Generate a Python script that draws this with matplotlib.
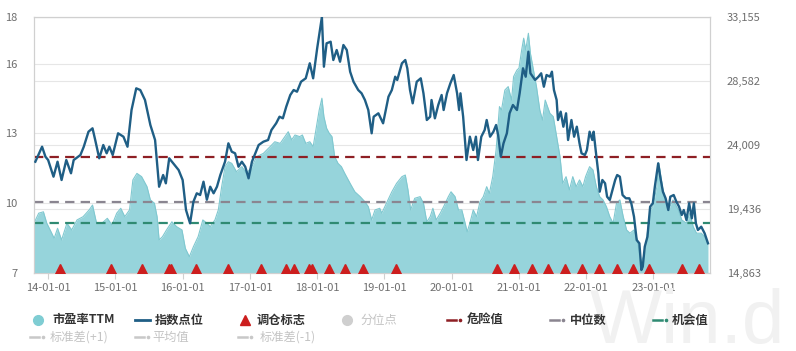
import matplotlib
matplotlib.use('Agg')
import matplotlib.pyplot as plt
from matplotlib.lines import Line2D
from matplotlib.ticker import FuncFormatter

plt.rcParams['font.family'] = ['Noto Sans CJK SC', 'DejaVu Sans']

# index points (right axis), decimal years
idx_years = [2013.81, 2013.91, 2013.96, 2014.00, 2014.08, 2014.14, 2014.20, 2014.27, 2014.34, 2014.38,
             2014.48, 2014.53, 2014.60, 2014.66, 2014.70, 2014.76, 2014.82, 2014.87, 2014.91, 2014.96,
             2015.04, 2015.12, 2015.18, 2015.24, 2015.31, 2015.37, 2015.44, 2015.52, 2015.59, 2015.65,
             2015.71, 2015.75, 2015.80, 2015.86, 2015.94, 2016.00, 2016.05, 2016.11, 2016.16, 2016.21,
             2016.26, 2016.31, 2016.36, 2016.41, 2016.46, 2016.51, 2016.56, 2016.63, 2016.68, 2016.73,
             2016.78, 2016.83, 2016.88, 2016.93, 2016.98, 2017.03, 2017.08, 2017.13, 2017.20, 2017.27,
             2017.32, 2017.39, 2017.44, 2017.49, 2017.54, 2017.60, 2017.65, 2017.70, 2017.76, 2017.83,
             2017.89, 2017.94, 2018.00, 2018.07, 2018.10, 2018.14, 2018.20, 2018.24, 2018.29, 2018.34,
             2018.39, 2018.44, 2018.49, 2018.54, 2018.61, 2018.66, 2018.71, 2018.76, 2018.81, 2018.84,
             2018.91, 2018.98, 2019.06, 2019.11, 2019.16, 2019.19, 2019.26, 2019.31, 2019.34, 2019.38,
             2019.42, 2019.48, 2019.54, 2019.58, 2019.63, 2019.68, 2019.70, 2019.75, 2019.80, 2019.85,
             2019.88, 2019.93, 2019.98, 2020.03, 2020.08, 2020.11, 2020.13, 2020.17, 2020.22, 2020.27,
             2020.32, 2020.36, 2020.39, 2020.44, 2020.49, 2020.52, 2020.57, 2020.62, 2020.66, 2020.69,
             2020.73, 2020.77, 2020.82, 2020.86, 2020.91, 2020.97, 2021.01, 2021.06, 2021.10, 2021.14,
             2021.17, 2021.24, 2021.29, 2021.33, 2021.37, 2021.41, 2021.46, 2021.49, 2021.52, 2021.56,
             2021.58, 2021.62, 2021.66, 2021.70, 2021.73, 2021.78, 2021.82, 2021.86, 2021.90, 2021.93,
             2021.98, 2022.01, 2022.05, 2022.09, 2022.11, 2022.14, 2022.18, 2022.20, 2022.24, 2022.28,
             2022.31, 2022.35, 2022.39, 2022.43, 2022.46, 2022.50, 2022.54, 2022.59, 2022.64, 2022.67,
             2022.71, 2022.75, 2022.79, 2022.82, 2022.84, 2022.87, 2022.91, 2022.95, 2022.99, 2023.02,
             2023.07, 2023.10, 2023.14, 2023.18, 2023.22, 2023.25, 2023.30, 2023.34, 2023.38, 2023.42,
             2023.45, 2023.49, 2023.53, 2023.57, 2023.60, 2023.63, 2023.66, 2023.71, 2023.76, 2023.81]
idx_vals = [22815, 23887, 23173, 22937, 21744, 22815, 21508, 22937, 21987, 22937,
            23294, 23887, 24959, 25202, 24366, 23058, 24009, 23416, 23887, 23294,
            24845, 24602, 23887, 26509, 28060, 27938, 27224, 25438, 24366, 21029,
            21865, 21272, 23058, 22701, 22222, 21508, 19364, 18414, 19957, 20558,
            20436, 21386, 20100, 21029, 20558, 21029, 21865, 22815, 24130, 23530,
            23416, 22458, 22815, 22458, 21629, 22815, 23416, 24009, 24244, 24366,
            25080, 25559, 26031, 25916, 26745, 27581, 27938, 27817, 28531, 28774,
            29846, 28774, 30918, 33155, 29603, 31275, 31389, 30082, 30796, 29961,
            31154, 30796, 29246, 28531, 27938, 27703, 27224, 26509, 24845, 26031,
            26274, 25559, 27460, 27938, 28889, 28653, 29846, 30082, 29489, 27938,
            26988, 28531, 28774, 27703, 25795, 26031, 27224, 25916, 26867, 27581,
            26509, 27703, 28417, 29010, 27703, 26509, 27703, 26031, 22937, 24602,
            23651, 24602, 22937, 24602, 25080, 25795, 24602, 24959, 25438, 24723,
            23173, 24130, 24845, 26274, 26867, 26509, 27703, 29489, 28889, 30675,
            29132, 28653, 28889, 29132, 28174, 29010, 28889, 29246, 27938, 27224,
            25795, 26388, 25316, 26274, 24366, 25795, 24602, 25316, 24130, 23416,
            23294, 23651, 24959, 24366, 24959, 23651, 21987, 20672, 21508, 21272,
            20315, 20079, 20793, 21508, 21865, 21744, 20436, 20200, 20200, 19843,
            18886, 17221, 16985, 15077, 15313, 16742, 17457, 19600, 19843, 21029,
            22701, 21744, 20672, 20200, 19364, 20315, 20436, 19957, 19600, 19007,
            19364, 18650, 19843, 18771, 19843, 18414, 17935, 18171, 17700, 16985]

# PE TTM (left axis)
pe_years = [2013.79, 2013.86, 2013.93, 2013.98, 2014.03, 2014.09, 2014.14, 2014.20, 2014.28, 2014.35,
            2014.43, 2014.52, 2014.61, 2014.66, 2014.72, 2014.80, 2014.88, 2014.95, 2015.02, 2015.08,
            2015.14, 2015.21, 2015.26, 2015.32, 2015.39, 2015.47, 2015.52, 2015.58, 2015.62, 2015.65,
            2015.70, 2015.76, 2015.84, 2015.91, 2015.99, 2016.04, 2016.10, 2016.16, 2016.23, 2016.30,
            2016.36, 2016.41, 2016.48, 2016.53, 2016.58, 2016.63, 2016.68, 2016.73, 2016.80, 2016.88,
            2016.95, 2017.03, 2017.10, 2017.20, 2017.30, 2017.37, 2017.45, 2017.52, 2017.57, 2017.62,
            2017.67, 2017.74, 2017.78, 2017.83, 2017.89, 2017.94, 2017.99, 2018.03, 2018.07, 2018.10,
            2018.14, 2018.18, 2018.22, 2018.26, 2018.31, 2018.36, 2018.41, 2018.49, 2018.56, 2018.64,
            2018.71, 2018.76, 2018.81, 2018.86, 2018.93, 2018.96, 2019.03, 2019.11, 2019.18, 2019.26,
            2019.31, 2019.35, 2019.39, 2019.45, 2019.53, 2019.58, 2019.63, 2019.68, 2019.72, 2019.77,
            2019.83, 2019.88, 2019.95, 2019.99, 2020.05, 2020.10, 2020.15, 2020.20, 2020.23, 2020.27,
            2020.32, 2020.37, 2020.42, 2020.47, 2020.52, 2020.56, 2020.61, 2020.66, 2020.71, 2020.74,
            2020.79, 2020.84, 2020.89, 2020.92, 2020.97, 2021.00, 2021.04, 2021.07, 2021.10, 2021.14,
            2021.17, 2021.21, 2021.26, 2021.31, 2021.35, 2021.39, 2021.46, 2021.51, 2021.56, 2021.61,
            2021.65, 2021.70, 2021.75, 2021.80, 2021.85, 2021.90, 2021.95, 2021.99, 2022.05, 2022.10,
            2022.15, 2022.20, 2022.25, 2022.30, 2022.35, 2022.40, 2022.45, 2022.50, 2022.55, 2022.60,
            2022.65, 2022.71, 2022.76, 2022.81, 2022.85, 2022.89, 2022.95, 2022.99, 2023.05, 2023.08,
            2023.14, 2023.22, 2023.29, 2023.37, 2023.42, 2023.49, 2023.54, 2023.59, 2023.64, 2023.71,
            2023.76, 2023.81]
pe_vals = [9.14, 9.57, 9.63, 9.14, 8.85, 8.49, 8.92, 8.42, 9.14, 8.85,
           9.28, 9.42, 9.71, 9.92, 9.14, 9.14, 9.35, 9.06, 9.57, 9.78,
           9.42, 9.71, 11.00, 11.28, 11.14, 10.71, 10.14, 10.00, 9.42, 8.42,
           8.56, 8.85, 9.20, 8.99, 8.85, 8.06, 7.70, 8.13, 8.56, 9.28,
           9.14, 8.99, 9.28, 9.71, 10.71, 11.57, 11.78, 11.71, 11.35, 11.57,
           11.28, 11.57, 12.00, 12.14, 12.43, 12.64, 12.57, 12.86, 13.07, 12.72,
           12.93, 12.86, 12.93, 12.57, 12.64, 12.43, 13.29, 14.00, 14.51, 13.72,
           13.22, 13.00, 12.86, 12.00, 11.71, 11.57, 11.28, 10.85, 10.49, 10.28,
           10.06, 9.85, 9.28, 9.71, 9.78, 9.57, 10.00, 10.49, 10.85, 11.14,
           11.21, 10.57, 9.71, 10.21, 10.28, 10.00, 9.20, 9.42, 9.78, 9.28,
           9.57, 9.85, 10.28, 10.49, 10.28, 9.71, 9.71, 9.14, 8.77, 9.14,
           9.71, 9.42, 10.06, 10.28, 10.71, 10.42, 11.14, 12.29, 14.15, 14.00,
           14.86, 15.01, 14.43, 15.44, 15.72, 15.80, 16.58, 17.09, 16.58, 17.30,
           16.44, 15.80, 15.01, 14.00, 13.57, 14.43, 13.86, 13.72, 12.86, 12.00,
           10.85, 11.14, 10.57, 11.14, 10.71, 11.00, 10.71, 11.14, 11.57, 11.43,
           10.71, 10.28, 10.14, 9.85, 9.42, 9.14, 10.00, 10.14, 9.42, 8.85,
           8.71, 8.85, 8.42, 7.42, 7.70, 8.28, 9.71, 9.85, 10.71, 11.71,
           10.57, 9.71, 10.14, 9.71, 9.28, 9.14, 9.57, 8.99, 8.71, 8.71,
           8.56, 8.28]

# rebalance markers
flag_years = [2014.18, 2014.93, 2015.40, 2015.79, 2015.82, 2016.20, 2016.67, 2017.17, 2017.53, 2017.66,
              2017.88, 2017.92, 2018.17, 2018.41, 2018.68, 2019.17, 2020.68, 2020.93, 2021.20, 2021.43,
              2021.68, 2021.93, 2022.19, 2022.45, 2022.69, 2022.94, 2023.43, 2023.68]

danger_pe = 12.0
median_pe = 10.06
chance_pe = 9.16

left_ticks = [7, 10, 13, 16, 18]
right_ticks = [14863, 19436, 24009, 28582, 33155]
year_ticks = [2014, 2015, 2016, 2017, 2018, 2019, 2020, 2021, 2022, 2023]
year_labels = ['14-01-01', '15-01-01', '16-01-01', '17-01-01', '18-01-01',
               '19-01-01', '20-01-01', '21-01-01', '22-01-01', '23-01-01']

W, H = 796, 351
fig = plt.figure(figsize=(W / 100, H / 100), dpi=100)

# watermark
fig.text(590 / W, 1 - 343 / H, 'Win.d', fontsize=55, color='#f1f1f1',
         family='Liberation Sans', ha='left', va='baseline', zorder=0)

ax = fig.add_axes([34 / W, 1 - 273 / H, 676 / W, 256 / H])
ax2 = ax.twinx()
ax.set_xlim(2013.79, 2023.84)
ax.set_ylim(7, 18)
ax2.set_ylim(14863, 33155)

grid_c = '#e6e6e6'
ax.set_yticks(left_ticks)
ax.grid(axis='y', color=grid_c, lw=0.8)
ax.set_axisbelow(True)
ax2.set_yticks(right_ticks)
ax2.yaxis.set_major_formatter(FuncFormatter(lambda v, p: f'{int(round(v)):,}'))
ax2.grid(axis='y', color=grid_c, lw=0.8, zorder=0)
ax2.set_axisbelow(True)

ax.set_xticks(year_ticks)
ax.set_xticklabels(year_labels)

# PE area on ax2 with left-axis coordinates so it covers the right-axis grid
ax2.fill_between(pe_years, 7, pe_vals, transform=ax.transData,
                 color='#96d4db', lw=0, zorder=1)
ax2.plot(pe_years, pe_vals, transform=ax.transData, color='#80c8d0', lw=0.8, zorder=1.1)

for val, col in [(danger_pe, '#8e1f24'), (median_pe, '#8a8590'), (chance_pe, '#2f8a72')]:
    ax2.plot([2013.79, 2023.84], [val, val], transform=ax.transData, color=col,
             lw=1.6, dashes=(4.2, 2.8), zorder=2)

ax2.plot(idx_years, idx_vals, color='#1f5e85', lw=1.7, zorder=3)
ax2.plot(flag_years, [7.18] * len(flag_years), transform=ax.transData, ls='none',
         marker='^', ms=7.5, color='#cc1e1e', mec='#cc1e1e', zorder=4)

for a in (ax, ax2):
    for s in a.spines.values():
        s.set_color('#d0d0d0')
        s.set_linewidth(0.8)
ax.tick_params(axis='y', length=0, pad=12, labelsize=8, labelcolor='#6e6e6e')
ax2.tick_params(axis='y', length=0, pad=12, labelsize=8, labelcolor='#6e6e6e')
ax.tick_params(axis='x', length=4, color='#d0d0d0', pad=3, labelsize=8, labelcolor='#6e6e6e')


# legend drawn in figure pixels
def fx(x):
    return x / W


def fy(y):
    return 1 - y / H


def dash_dot(x, y, col):
    fig.add_artist(Line2D([fx(x), fx(x + 9)], [fy(y), fy(y)], color=col, lw=1.8))
    fig.add_artist(Line2D([fx(x + 13)], [fy(y)], color=col, marker='o', ms=1.6, ls='none'))


txt_on = dict(fontsize=8.8, color='#333333', weight='bold', va='center', ha='left')
txt_off = dict(fontsize=8.8, color='#c4c4c4', va='center', ha='left')
r1, r2 = 320, 337

fig.add_artist(Line2D([fx(38)], [fy(r1)], marker='o', ms=7, color='#7fcdd3', ls='none'))
fig.text(fx(52), fy(r1), '市盈率TTM', **txt_on)
fig.add_artist(Line2D([fx(135), fx(150)], [fy(r1), fy(r1)], color='#1f5e85', lw=2))
fig.text(fx(155), fy(r1), '指数点位', **txt_on)
fig.add_artist(Line2D([fx(245)], [fy(r1)], marker='^', ms=7, color='#cc1e1e', ls='none'))
fig.text(fx(257), fy(r1), '调仓标志', **txt_on)
fig.add_artist(Line2D([fx(347)], [fy(r1)], marker='o', ms=7, color='#cfcfcf', ls='none'))
fig.text(fx(360), fy(r1), '分位点', **txt_off)
dash_dot(447, r1, '#8e1f24')
fig.text(fx(467), fy(r1), '危险值', **txt_on)
dash_dot(550, r1, '#8a8590')
fig.text(fx(570), fy(r1), '中位数', **txt_on)
dash_dot(653, r1, '#2f8a72')
fig.text(fx(672), fy(r1), '机会值', **txt_on)

dash_dot(30, r2, '#c8c8c8')
fig.text(fx(50), fy(r2), '标准差(+1)', **txt_off)
dash_dot(135, r2, '#c8c8c8')
fig.text(fx(152), fy(r2), '平均值', **txt_off)
dash_dot(238, r2, '#c8c8c8')
fig.text(fx(260), fy(r2), '标准差(-1)', **txt_off)

fig.savefig('out.png', dpi=100)
